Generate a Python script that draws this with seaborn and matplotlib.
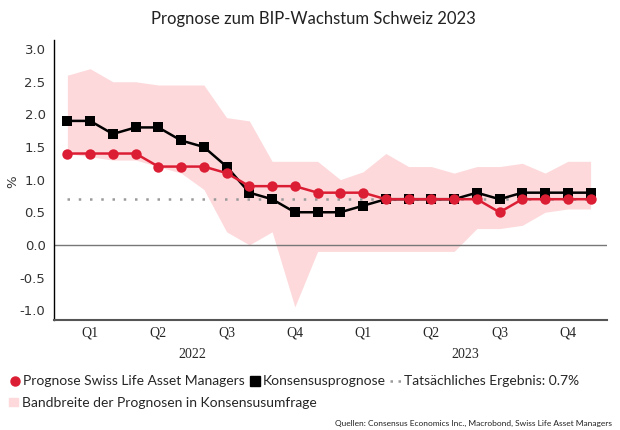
import numpy as np
import pandas as pd
import matplotlib
matplotlib.use("Agg")
import matplotlib.pyplot as plt
from matplotlib.lines import Line2D
from matplotlib.patches import Patch
import seaborn as sns

# monthly values Jan 2022 .. Dec 2023
months = pd.date_range("2022-01-01", periods=24, freq="MS").strftime("%Y-%m").tolist()
slam = [1.4, 1.4, 1.4, 1.4, 1.2, 1.2, 1.2, 1.1, 0.9, 0.9, 0.9, 0.8,
        0.8, 0.8, 0.7, 0.7, 0.7, 0.7, 0.7, 0.5, 0.7, 0.7, 0.7, 0.7]
konsens = [1.9, 1.9, 1.7, 1.8, 1.8, 1.6, 1.5, 1.2, 0.8, 0.7, 0.5, 0.5,
           0.5, 0.6, 0.7, 0.7, 0.7, 0.7, 0.8, 0.7, 0.8, 0.8, 0.8, 0.8]
band_hi = [2.6, 2.7, 2.5, 2.5, 2.45, 2.45, 2.45, 1.95, 1.9, 1.28, 1.28, 1.28,
           1.0, 1.12, 1.4, 1.2, 1.2, 1.1, 1.2, 1.2, 1.25, 1.1, 1.28, 1.28]
band_lo = [1.4, 1.35, 1.3, 1.3, 1.2, 1.1, 0.85, 0.2, 0.0, 0.2, -0.95, -0.1,
           -0.1, -0.1, -0.1, -0.1, -0.1, -0.1, 0.25, 0.25, 0.3, 0.5, 0.55, 0.55]
actual = 0.7
quarters = ["Q1", "Q2", "Q3", "Q4"] * 2
years = ["2022", "2023"]

df = pd.DataFrame({"month": months, "x": np.arange(len(months)),
                   "slam": slam, "konsens": konsens,
                   "hi": band_hi, "lo": band_lo})
df["actual"] = actual

red = "#dc1e35"
pink = "#fdd9db"

sns.set_style("white")
fig = plt.figure(figsize=(6.2, 4.3), dpi=100)
ax = fig.add_axes([0.087, 0.256, 0.892, 0.651])

ax.fill_between(df["x"], df["lo"], df["hi"], color=pink, lw=0, zorder=1)
ax.axhline(0, color="#777777", lw=1, zorder=2)
sns.lineplot(data=df, x="x", y="actual", ax=ax, color="#9a9a9a", lw=1.8,
             linestyle=(0, (1, 3.5)), zorder=3)
sns.lineplot(data=df, x="x", y="konsens", ax=ax, color="black", lw=1.8,
             marker="s", markersize=7.5, markeredgewidth=0, zorder=4)
sns.lineplot(data=df, x="x", y="slam", ax=ax, color=red, lw=1.8,
             marker="o", markersize=7.5, markeredgewidth=0, zorder=5)

ax.set_xlim(-0.59, 23.72)
ax.set_ylim(-1.15, 3.14)
ax.set_yticks(np.arange(-1.0, 3.01, 0.5))
ax.set_yticklabels([f"{v:.1f}" for v in np.arange(-1.0, 3.01, 0.5)],
                   fontsize=9.5, color="#333333")
ax.set_xticks(np.arange(-0.5, 24, 3))
ax.set_xticklabels([])
ax.set_xticks(np.arange(1, 24, 3), minor=True)
ax.set_xticklabels(quarters, minor=True, fontsize=10, family="Liberation Serif")
ax.tick_params(axis="x", which="major", length=3, color="#444444", direction="out")
ax.tick_params(axis="x", which="minor", length=0, pad=5)
ax.tick_params(axis="y", length=4, direction="out", pad=2)
ax.set_xlabel("")
ax.set_ylabel("")
fig.text(0.021, 0.577, "%", rotation=90, ha="center", va="center",
         fontsize=9.5, color="#333333")

for i, yr in enumerate(years):
    ax.text(5.5 + 12 * i, -0.123, yr, transform=ax.get_xaxis_transform(),
            ha="center", va="center", fontsize=10, family="Liberation Serif")

for s in ["top", "right"]:
    ax.spines[s].set_visible(False)
ax.spines["left"].set_color("black")
ax.spines["left"].set_linewidth(1)
ax.spines["bottom"].set_color("#555555")
ax.spines["bottom"].set_linewidth(1.5)

fig.text(0.505, 0.955, "Prognose zum BIP-Wachstum Schweiz 2023", ha="center",
         va="center", fontsize=12, family="Lato", color="#222222")

h1 = [Line2D([], [], color=red, marker="o", lw=0, markersize=6.5),
      Line2D([], [], color="black", marker="s", lw=0, markersize=6.5),
      Line2D([], [], color="#9a9a9a", lw=1.8, linestyle=(0, (1, 2.2)))]
l1 = ["Prognose Swiss Life Asset Managers", "Konsensusprognose",
      "Tatsächliches Ergebnis: 0.7%"]
fig.legend(h1, l1, loc="center left", bbox_to_anchor=(-0.005, 0.113), ncol=3,
           frameon=False, prop={"family": "Lato", "size": 10},
           handlelength=0.8, handletextpad=0.2, columnspacing=0.3)
h2 = [Patch(color=pink)]
l2 = ["Bandbreite der Prognosen in Konsensusumfrage"]
fig.legend(h2, l2, loc="center left", bbox_to_anchor=(-0.005, 0.063),
           frameon=False, prop={"family": "Lato", "size": 10},
           handlelength=0.6, handleheight=0.6, handletextpad=0.3)

fig.text(0.987, 0.016, "Quellen: Consensus Economics Inc., Macrobond, Swiss Life Asset Managers",
         ha="right", va="center", fontsize=6, family="Lato", color="#222222")

fig.savefig("out.png", dpi=100)
